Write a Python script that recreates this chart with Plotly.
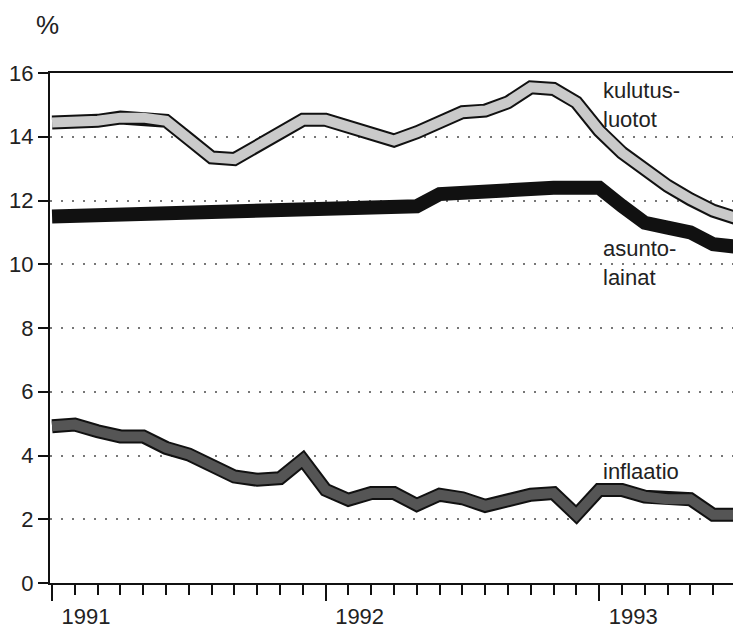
import plotly.graph_objects as go

# monthly observations, Jan 1991 - Jul 1993
months = ["1991-%02d" % m for m in range(1, 13)] + ["1992-%02d" % m for m in range(1, 13)] + ["1993-%02d" % m for m in range(1, 8)]
x = list(range(len(months)))

kulutusluotot = [14.45, 14.45, 14.5, 14.6, 14.6, 14.5, 13.93, 13.35, 13.3, 13.72, 14.17, 14.53,
                 14.53, 14.3, 14.06, 13.88, 14.14, 14.45, 14.77, 14.82, 15.08, 15.55, 15.5, 15.08,
                 14.19, 13.5, 12.93, 12.46, 12.04, 11.68, 11.45]
asuntolainat = [11.5, 11.52, 11.55, 11.58, 11.6, 11.62, 11.64, 11.66, 11.68, 11.7, 11.72, 11.74,
                11.76, 11.77, 11.78, 11.8, 11.82, 12.2, 12.25, 12.3, 12.36, 12.38, 12.4, 12.4,
                12.4, 11.83, 11.3, 11.15, 11.0, 10.63, 10.55]
inflaatio = [4.92, 4.97, 4.76, 4.6, 4.6, 4.24, 4.03, 3.66, 3.34, 3.24, 3.29, 3.87,
             2.92, 2.61, 2.82, 2.82, 2.45, 2.77, 2.66, 2.42, 2.63, 2.77, 2.82, 2.14,
             2.92, 2.92, 2.71, 2.63, 2.63, 2.14, 2.14]

year_ticks = [0, 12, 24]
year_labels = ["1991", "1992", "1993"]
y_ticks = [0, 2, 4, 6, 8, 10, 12, 14, 16]

FONT = "Liberation Sans, Arial, sans-serif"

fig = go.Figure()


def band(y, fill):
    # black outline, then the lighter body of the band on top
    fig.add_trace(go.Scatter(x=x, y=y, mode="lines", line={"color": "#111111", "width": 14},
                             hoverinfo="skip"))
    if fill:
        fig.add_trace(go.Scatter(x=x, y=y, mode="lines", line={"color": fill, "width": 10},
                                 hoverinfo="skip"))


band(kulutusluotot, "#cacaca")
band(asuntolainat, None)
band(inflaatio, "#555555")

fig.add_annotation(x=24.1, y=15.0, text="kulutus-<br>luotot", xanchor="left", yanchor="middle",
                   showarrow=False, align="left", font={"size": 22})
fig.add_annotation(x=24.1, y=10.05, text="asunto-<br>lainat", xanchor="left", yanchor="middle",
                   showarrow=False, align="left", font={"size": 22})
fig.add_annotation(x=24.1, y=3.5, text="inflaatio", xanchor="left", yanchor="middle",
                   showarrow=False, align="left", font={"size": 22})
fig.add_annotation(x=-0.024, y=1.094, xref="paper", yref="paper", text="%", xanchor="left",
                   yanchor="middle", showarrow=False, font={"size": 26})

fig.update_layout(
    width=733,
    height=630,
    margin={"l": 50, "r": 0, "t": 73, "b": 47},
    paper_bgcolor="white",
    plot_bgcolor="white",
    showlegend=False,
    font={"family": FONT, "size": 22, "color": "#222222"},
    xaxis={
        "automargin": False,
        "range": [-0.09, 29.87],
        "tickmode": "array",
        "tickvals": year_ticks,
        "ticktext": year_labels,
        "ticks": "outside",
        "ticklen": 16,
        "tickwidth": 2,
        "tickcolor": "#111111",
        "ticklabelshift": 34,
        "ticklabelstandoff": -3,
        "minor": {"tickmode": "linear", "tick0": 0, "dtick": 1, "ticks": "outside",
                  "ticklen": 10, "tickwidth": 2, "tickcolor": "#111111", "showgrid": False},
        "showline": True,
        "linecolor": "#111111",
        "linewidth": 2,
        "mirror": True,
        "showgrid": False,
        "zeroline": False,
    },
    yaxis={
        "automargin": False,
        "range": [0, 16],
        "tickmode": "array",
        "tickvals": y_ticks,
        "ticks": "outside",
        "ticklen": 10,
        "tickwidth": 2,
        "tickcolor": "#111111",
        "showline": True,
        "linecolor": "#111111",
        "linewidth": 2,
        "showgrid": True,
        "gridcolor": "#777777",
        "gridwidth": 2,
        "griddash": "2px,9px",
        "zeroline": False,
    },
)

fig.write_html("out.html", config={"displayModeBar": False},
               post_script="document.body.style.margin='0';")
